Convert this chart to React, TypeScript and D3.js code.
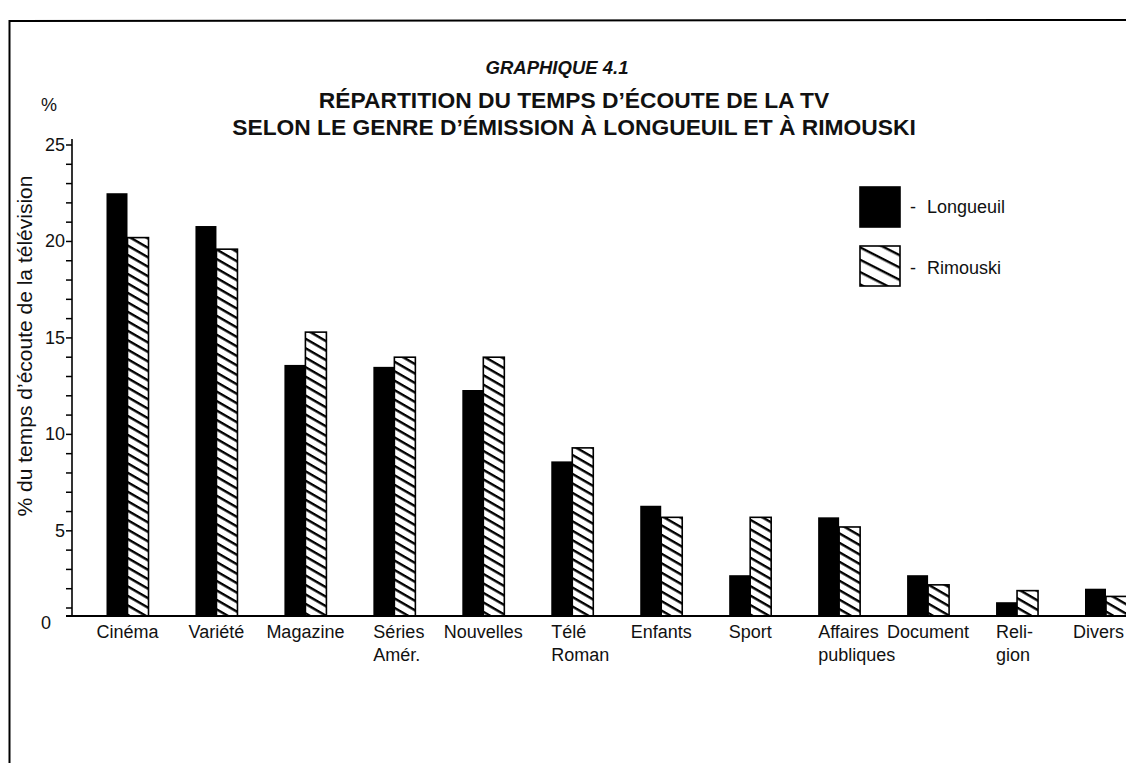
import React from "react";
import * as d3 from "d3";

const categories: string[][] = [
  ["Cinéma"], ["Variété"], ["Magazine"], ["Séries", "Amér."], ["Nouvelles"],
  ["Télé", "Roman"], ["Enfants"], ["Sport"], ["Affaires", "publiques"],
  ["Document"], ["Reli-", "gion"], ["Divers"],
];
const longueuil = [22.5, 20.8, 13.6, 13.5, 12.3, 8.6, 6.3, 2.7, 5.7, 2.7, 1.3, 2.0];
const rimouski = [20.2, 19.6, 15.3, 14.0, 14.0, 9.3, 5.7, 5.7, 5.2, 2.2, 1.9, 1.6];
const majorTicks = [0, 5, 10, 15, 20, 25];
const minorTicks = d3.range(0, 26);
const seriesNames = ["Longueuil", "Rimouski"];
const titleLines = [
  "RÉPARTITION DU TEMPS D’ÉCOUTE DE LA TV",
  "SELON LE GENRE D’ÉMISSION À LONGUEUIL ET À RIMOUSKI",
];
const supTitle = "GRAPHIQUE 4.1";
const yTitle = "% du temps d’écoute de la télévision";

const W = 1126;
const H = 763;
const FONT = "'Liberation Sans', Arial, Helvetica, sans-serif";

export default function App() {
  const idx = categories.map((_, i) => String(i));
  const x = d3.scalePoint<string>().domain(idx).range([127.5, 1106]);
  const y = d3.scaleLinear().domain([0, 1, 25]).range([616, 608, 145]);
  const bw = 21;
  const axisX = 72;
  const base = y(0);

  return (
    <svg
      width={W}
      height={H}
      style={{ position: "absolute", left: 0, top: 0, background: "#fff" }}
      fontFamily={FONT}
    >
      <defs>
        <pattern id="hatch" patternUnits="userSpaceOnUse" width={10} height={8.2} patternTransform="rotate(30)">
          <rect x={0} y={0} width={10} height={8.2} fill="#fff" />
          <rect x={0} y={0} width={10} height={2.4} fill="#000" />
        </pattern>
        <pattern id="hatchLeg" patternUnits="userSpaceOnUse" width={12} height={11} patternTransform="translate(860,246) rotate(27)">
          <rect x={0} y={0} width={12} height={11} fill="#fff" />
          <rect x={0} y={0} width={12} height={2.4} fill="#000" />
        </pattern>
      </defs>
      <rect x={0} y={0} width={W} height={H} fill="#fff" />

      {/* frame */}
      <line x1={9} y1={21} x2={W} y2={20} stroke="#000" strokeWidth={2} />
      <line x1={9.5} y1={20} x2={9.5} y2={H} stroke="#000" strokeWidth={2} />

      {/* titles */}
      <text x={557} y={74} textAnchor="middle" fontSize={18.5} fontStyle="italic" fontWeight="bold" fill="#111">
        {supTitle}
      </text>
      {titleLines.map((t, i) => (
        <text key={i} x={574} y={108 + i * 27} textAnchor="middle" fontSize={22.8} fontWeight="bold" fill="#111">
          {t}
        </text>
      ))}
      <text x={41} y={111} fontSize={18} fill="#111">%</text>

      {/* y axis title */}
      <text
        transform={`translate(32, 346) rotate(-90)`}
        textAnchor="middle"
        fontSize={21}
        fill="#111"
      >
        {yTitle}
      </text>

      {/* y axis */}
      <line x1={axisX} y1={y(25) - 6} x2={axisX} y2={base} stroke="#000" strokeWidth={1.6} />
      {minorTicks.map((t) => (
        <line key={"m" + t} x1={axisX - 6} x2={axisX} y1={y(t)} y2={y(t)} stroke="#000" strokeWidth={1.5} />
      ))}
      {majorTicks.map((t) => (
        <text
          key={"t" + t}
          x={t === 0 ? 41 : 65}
          y={y(t) + (t === 0 ? 13 : 6)}
          textAnchor={t === 0 ? "start" : "end"}
          fontSize={18}
          fill="#111"
        >
          {t}
        </text>
      ))}

      {/* bars */}
      {idx.map((k, i) => {
        const cx = x(k)!;
        return (
          <g key={"b" + k}>
            <rect x={cx - bw} y={y(longueuil[i])} width={bw} height={base - y(longueuil[i])} fill="#000" />
            <rect
              x={cx}
              y={y(rimouski[i])}
              width={bw}
              height={base - y(rimouski[i])}
              fill="url(#hatch)"
              stroke="#000"
              strokeWidth={1.6}
            />
          </g>
        );
      })}

      {/* baseline */}
      <line x1={axisX - 6} x2={W} y1={base} y2={base} stroke="#000" strokeWidth={2} />

      {/* category labels */}
      {idx.map((k, i) => {
        const lines = categories[i];
        const cx = x(k)!;
        const last = i === categories.length - 1;
        const multi = lines.length > 1;
        const lx = last ? W - 2 : multi ? cx - bw : cx;
        const anchor = last ? "end" : multi ? "start" : "middle";
        return (
          <text key={"l" + k} x={lx} y={638} textAnchor={anchor} fontSize={18} fill="#111">
            {lines.map((ln, j) => (
              <tspan key={j} x={lx} dy={j === 0 ? 0 : 23}>
                {ln}
              </tspan>
            ))}
          </text>
        );
      })}

      {/* legend */}
      {seriesNames.map((s, i) => (
        <g key={"lg" + s}>
          <rect
            x={860}
            y={187 + i * 59}
            width={40}
            height={40}
            fill={i === 0 ? "#000" : "url(#hatchLeg)"}
            stroke="#000"
            strokeWidth={1.6}
          />
          <text x={910} y={213 + i * 61} fontSize={18} fill="#111">
            -
          </text>
          <text x={927} y={213 + i * 61} fontSize={18} fill="#111">
            {s}
          </text>
        </g>
      ))}
    </svg>
  );
}
